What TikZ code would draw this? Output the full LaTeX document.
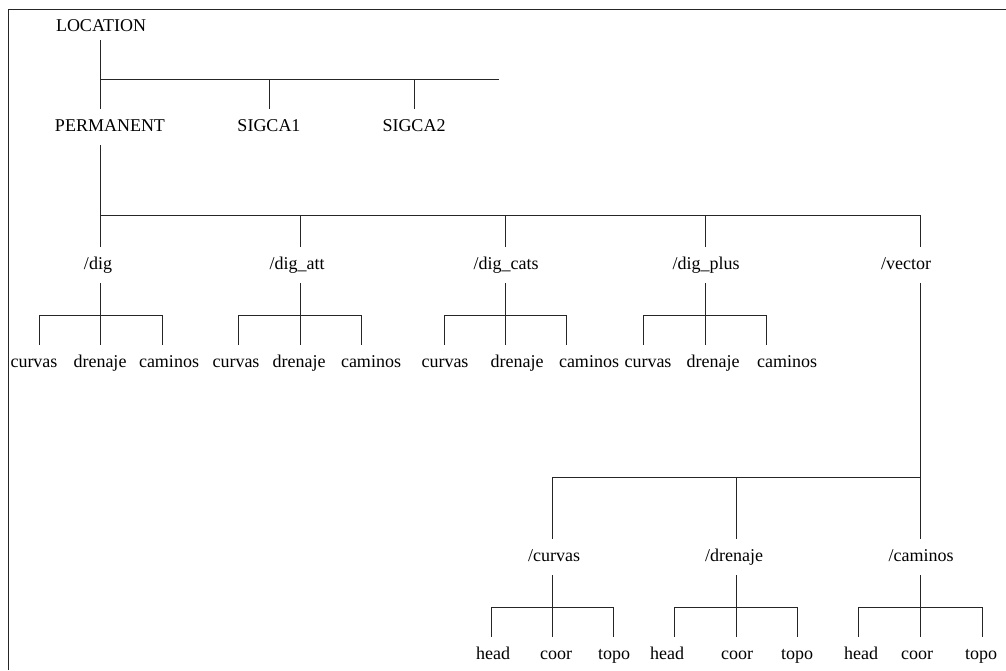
\documentclass[tikz,border=0pt]{standalone}
\usepackage{fontspec}
\setmainfont{Liberation Serif}
\begin{document}
\begin{tikzpicture}[x=1pt,y=-1pt,
  lbl/.style={inner xsep=0pt,inner ysep=10pt,text height=12pt,text depth=4pt,
              font=\fontsize{18}{20}\selectfont},
  link/.style={draw=black!85,line width=1pt}]
\useasboundingbox (0,0) rectangle (1006,670);
% frame
\coordinate (fa) at (8,670);
\coordinate (fb) at (8,9);
\coordinate (fc) at (1006,9);
\draw[link] (fa) -- (fb) -- (fc);

% a parent with three children hanging from a bracket
\newcommand{\branchfork}[8]{%
  \coordinate (#1-l) at (#2,#5);
  \coordinate (#1-m) at (#3,#5);
  \coordinate (#1-r) at (#4,#5);
  \draw[link] (#1.south -| #1-m) -- (#1-m);
  \draw[link] (#1-l) -- (#1-r);
  \draw[link] (#1-l) -- (#6.north -| #1-l);
  \draw[link] (#1-m) -- (#7.north -| #1-m);
  \draw[link] (#1-r) -- (#8.north -| #1-r);
}

% top level
\node[lbl,inner ysep=5pt] (loc) at (101,27) {LOCATION};
\node[lbl] (perm) at (110,127) {PERMANENT};
\node[lbl] (sg1) at (269,127) {SIGCA1};
\node[lbl] (sg2) at (414,127) {SIGCA2};
\coordinate (b0) at (100,79);
\coordinate (b0e) at (499,79);
\draw[link] (loc.south -| b0) -- (b0) -- (b0e);
\draw[link] (b0) -- (perm.north -| b0);
\draw[link] (b0 -| sg1) -- (sg1.north);
\draw[link] (b0 -| sg2) -- (sg2.north);

% directories under PERMANENT
\node[lbl] (dig) at (98,265) {/dig};
\node[lbl] (att) at (297,265) {/dig\_att};
\node[lbl] (cat) at (506,265) {/dig\_cats};
\node[lbl] (plu) at (706,265) {/dig\_plus};
\node[lbl] (vec) at (906,265) {/vector};
\coordinate (b1) at (100,215);
\coordinate (x1) at (300,215);
\coordinate (x2) at (505,215);
\coordinate (x3) at (705,215);
\coordinate (x4) at (920,215);
\draw[link] (perm.south -| b1) -- (b1) -- (x4);
\draw[link] (b1) -- (dig.north -| b1);
\draw[link] (x1) -- (att.north -| x1);
\draw[link] (x2) -- (cat.north -| x2);
\draw[link] (x3) -- (plu.north -| x3);
\draw[link] (x4) -- (vec.north -| x4);

% leaves of the dig directories
\node[lbl] (dg1) at (34,363) {curvas};
\node[lbl] (dg2) at (100,363) {drenaje};
\node[lbl] (dg3) at (169,363) {caminos};
\node[lbl] (at1) at (236,363) {curvas};
\node[lbl] (at2) at (299,363) {drenaje};
\node[lbl] (at3) at (371,363) {caminos};
\node[lbl] (ct1) at (445,363) {curvas};
\node[lbl] (ct2) at (517,363) {drenaje};
\node[lbl] (ct3) at (589,363) {caminos};
\node[lbl] (pl1) at (648,363) {curvas};
\node[lbl] (pl2) at (713,363) {drenaje};
\node[lbl] (pl3) at (787,363) {caminos};
\branchfork{dig}{39}{100}{162}{315}{dg1}{dg2}{dg3}
\branchfork{att}{238}{300}{361}{315}{at1}{at2}{at3}
\branchfork{cat}{444}{505}{566}{315}{ct1}{ct2}{ct3}
\branchfork{plu}{643}{705}{766}{315}{pl1}{pl2}{pl3}

% vector subtree
\node[lbl] (cv) at (554,557) {/curvas};
\node[lbl] (dr) at (734,557) {/drenaje};
\node[lbl] (cm) at (921,557) {/caminos};
\coordinate (b2) at (920,477);
\coordinate (y1) at (552,477);
\coordinate (y2) at (736,477);
\draw[link] (vec.south -| b2) -- (b2) -- (y1);
\draw[link] (y1) -- (cv.north -| y1);
\draw[link] (y2) -- (dr.north -| y2);
\draw[link] (b2) -- (cm.north -| b2);

\node[lbl] (cv1) at (493,655) {head};
\node[lbl] (cv2) at (556,655) {coor};
\node[lbl] (cv3) at (614,655) {topo};
\node[lbl] (dr1) at (667,655) {head};
\node[lbl] (dr2) at (737,655) {coor};
\node[lbl] (dr3) at (797,655) {topo};
\node[lbl] (cm1) at (861,655) {head};
\node[lbl] (cm2) at (917,655) {coor};
\node[lbl] (cm3) at (981,655) {topo};
\branchfork{cv}{491}{552}{613}{607}{cv1}{cv2}{cv3}
\branchfork{dr}{674}{736}{797}{607}{dr1}{dr2}{dr3}
\branchfork{cm}{858}{920}{982}{607}{cm1}{cm2}{cm3}
\end{tikzpicture}
\end{document}
